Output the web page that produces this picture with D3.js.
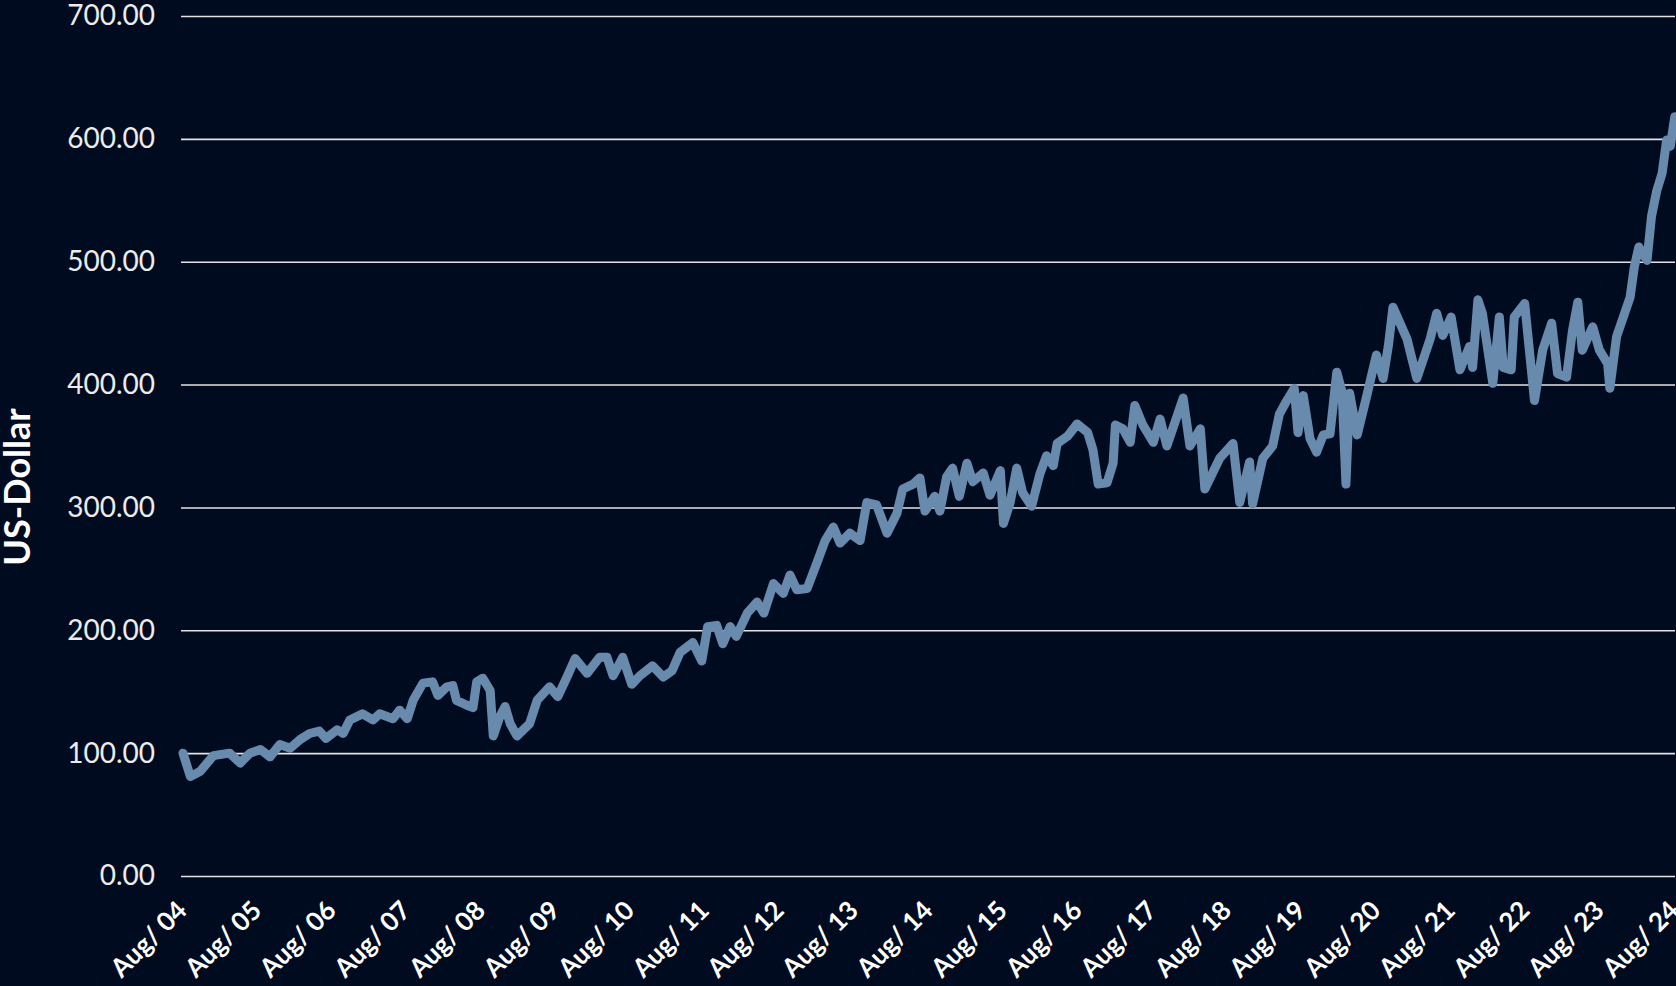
<!DOCTYPE html>
<html>
<head>
<meta charset="utf-8">
<script src="https://cdn.jsdelivr.net/npm/d3@7"></script>
<style>
  html, body { margin: 0; padding: 0; background: #000b20; }
  svg { display: block; }
</style>
</head>
<body>
<svg id="chart"></svg>
<script>
// data
const dates = [
  '2004-08-01','2004-09-06','2004-10-23','2004-12-28','2005-03-17','2005-05-08','2005-06-25','2005-08-15',
  '2005-10-01','2005-11-18','2006-01-08','2006-02-25','2006-04-13','2006-05-30','2006-07-02','2006-08-26',
  '2006-09-24','2006-10-27','2006-12-28','2007-02-17','2007-03-22','2007-05-26','2007-06-28','2007-08-04',
  '2007-09-02','2007-10-20','2007-12-06','2008-01-01','2008-02-14','2008-03-14','2008-04-01','2008-05-22',
  '2008-06-21','2008-07-09','2008-08-08','2008-09-13','2008-09-28','2008-10-31','2008-11-25','2008-12-20',
  '2009-01-22','2009-03-25','2009-05-01','2009-07-01','2009-08-10','2009-09-24','2009-11-03','2010-01-01',
  '2010-03-03','2010-04-08','2010-05-08','2010-06-24','2010-08-07','2010-09-16','2010-11-17','2011-01-08',
  '2011-02-20','2011-04-01','2011-06-02','2011-07-16','2011-08-14','2011-09-27','2011-10-27','2011-12-02',
  '2012-01-01','2012-02-24','2012-04-12','2012-05-15','2012-07-01','2012-08-18','2012-09-20','2012-10-23',
  '2012-12-13','2013-01-30','2013-03-11','2013-04-20','2013-05-23','2013-07-10','2013-08-29','2013-10-01',
  '2013-11-18','2014-01-08','2014-02-25','2014-03-26','2014-05-16','2014-06-18','2014-07-13','2014-08-29',
  '2014-09-24','2014-10-27','2014-11-25','2014-12-28','2015-02-03','2015-03-04','2015-04-24','2015-05-27',
  '2015-07-17','2015-08-01','2015-09-03','2015-10-05','2015-11-03','2015-12-17','2016-01-26','2016-02-28',
  '2016-04-01','2016-04-20','2016-06-10','2016-07-27','2016-09-16','2016-10-12','2016-11-07','2016-12-20',
  '2017-01-19','2017-01-30','2017-03-08','2017-04-13','2017-05-05','2017-06-14','2017-08-04','2017-09-06',
  '2017-10-09','2017-12-28','2018-01-30','2018-03-22','2018-04-13','2018-06-25','2018-08-29','2018-10-01',
  '2018-11-18','2018-12-03','2019-01-22','2019-03-11','2019-04-13','2019-05-16','2019-06-25','2019-07-13',
  '2019-08-08','2019-09-10','2019-10-12','2019-11-14','2019-12-17','2020-01-19','2020-02-14','2020-03-04',
  '2020-03-22','2020-04-28','2020-06-14','2020-07-31','2020-09-02','2020-09-28','2020-10-20','2020-12-28',
  '2021-02-14','2021-04-20','2021-05-22','2021-06-21','2021-08-01','2021-09-13','2021-10-30','2021-11-14',
  '2021-12-10','2022-01-01','2022-02-21','2022-03-25','2022-04-13','2022-05-22','2022-06-06','2022-07-27',
  '2022-08-22','2022-09-13','2022-10-23','2022-12-06','2023-01-04','2023-02-17','2023-03-18','2023-04-13',
  '2023-05-05','2023-06-25','2023-07-28','2023-09-06','2023-09-17','2023-10-20','2023-11-22','2023-12-25',
  '2024-01-15','2024-02-06','2024-03-17','2024-04-08','2024-05-04','2024-05-30','2024-06-21','2024-07-09',
  '2024-07-31'
]
const values = [
  100, 81, 85, 98, 100, 92, 100, 103,
  97, 107, 104, 111, 116, 118, 112, 119,
  116, 127, 132, 127, 132, 128, 135, 128,
  143, 157, 158, 147, 154, 155, 143, 139,
  137, 158, 161, 151, 114, 130, 138, 124,
  114, 124, 143, 154, 146, 162, 177, 165,
  178, 178, 163, 178, 156, 163, 171, 162,
  167, 182, 190, 175, 203, 204, 189, 203,
  195, 214, 223, 214, 238, 230, 245, 233,
  234, 255, 273, 284, 271, 279, 273, 304,
  302, 279, 295, 315, 319, 324, 297, 309,
  297, 325, 332, 309, 336, 321, 328, 310,
  330, 287, 304, 332, 312, 301, 327, 342,
  334, 352, 358, 368, 361, 347, 319, 320,
  336, 367, 364, 353, 383, 367, 353, 372,
  350, 389, 350, 364, 315, 340, 352, 304,
  337, 303, 340, 350, 376, 386, 397, 361,
  391, 356, 345, 359, 360, 410, 394, 319,
  393, 359, 391, 424, 405, 432, 463, 437,
  405, 437, 458, 440, 455, 412, 431, 414,
  469, 458, 401, 455, 414, 412, 455, 466,
  423, 387, 428, 450, 409, 406, 444, 467,
  428, 447, 428, 417, 397, 439, 455, 471,
  496, 512, 501, 537, 558, 572, 599, 594,
  618
]
const yTicks = [0, 100, 200, 300, 400, 500, 600, 700]
const xTickYears = [2004, 2005, 2006, 2007, 2008, 2009, 2010, 2011, 2012, 2013, 2014,
  2015, 2016, 2017, 2018, 2019, 2020, 2021, 2022, 2023, 2024]
const yTitle = 'US-Dollar'

const w = 1676
const h = 986
const parse = d3.timeParse('%Y-%m-%d')
const data = dates.map((d, i) => ({ date: parse(d), value: values[i] }))

const svg = d3.select('#chart')
  .attr('width', w)
  .attr('height', h)
  .style('background', '#000b20')

const xScale = d3.scaleTime()
  .domain([new Date(2004, 7, 1), new Date(2024, 7, 1)])
  .range([183, 1675])
const yScale = d3.scaleLinear()
  .domain([0, 700])
  .range([876, 16])

// gridlines + y labels
const yAxis = d3.axisLeft(yScale)
  .tickValues(yTicks)
  .tickSize(-(1675 - 181))
  .tickPadding(26)
  .tickFormat(d3.format('.2f'))
svg.append('g')
  .attr('transform', 'translate(181,0)')
  .call(yAxis)
  .call(g => g.select('.domain').remove())
  .call(g => g.selectAll('.tick line').attr('stroke', '#e3e3e3').attr('stroke-width', 1.6))
  .call(g => g.selectAll('.tick text')
    .attr('fill', '#ececec')
    .style('font-family', 'Lato, sans-serif')
    .style('font-size', '28px'))

// x labels
const xAxis = d3.axisBottom(xScale)
  .tickValues(xTickYears.map(y => new Date(y, 7, 1)))
  .tickSize(0)
  .tickFormat(d3.timeFormat('Aug/ %y'))
svg.append('g')
  .attr('transform', 'translate(0,876)')
  .call(xAxis)
  .call(g => g.select('.domain').remove())
  .call(g => g.selectAll('.tick text')
    .attr('fill', '#ffffff')
    .attr('text-anchor', 'end')
    .attr('dy', 0)
    .attr('y', 0)
    .attr('transform', 'translate(5,36) rotate(-45)')
    .style('font-family', 'Lato, sans-serif')
    .style('font-weight', 'bold')
    .style('font-size', '26px'))

// y title
svg.append('text')
  .attr('transform', 'translate(30,487) rotate(-90)')
  .attr('text-anchor', 'middle')
  .attr('fill', '#ffffff')
  .style('font-family', 'Lato, sans-serif')
  .style('font-weight', 'bold')
  .style('font-size', '36px')
  .text(yTitle)

// line
const line = d3.line()
  .x(d => xScale(d.date))
  .y(d => yScale(d.value))
svg.append('path')
  .datum(data)
  .attr('d', line)
  .attr('fill', 'none')
  .attr('stroke', '#688bad')
  .attr('stroke-width', 9)
  .attr('stroke-linejoin', 'round')
  .attr('stroke-linecap', 'round')
</script>
</body>
</html>
